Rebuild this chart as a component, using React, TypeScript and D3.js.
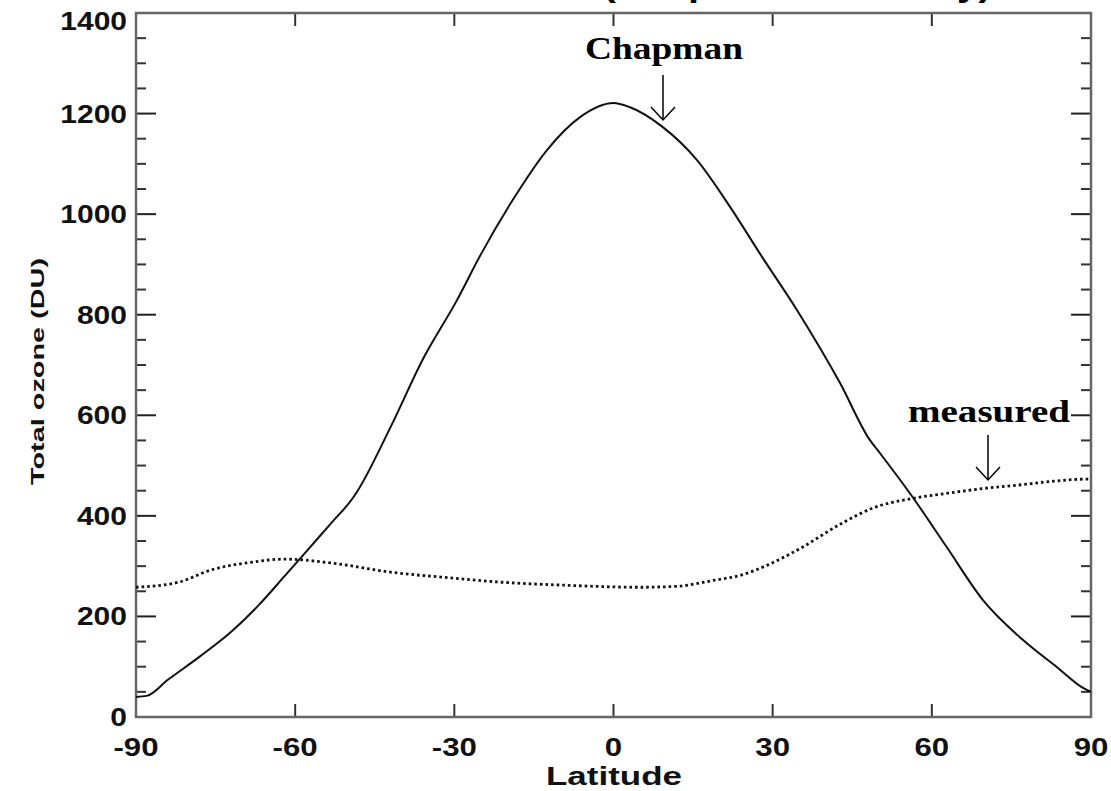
import { useEffect, useRef } from 'react';
import * as d3 from 'd3';

// Chapman theory total ozone vs latitude (DU)
const chapmanLat = [-90, -88, -84, -78, -72, -67, -62, -57.5, -53, -49.3, -48.4, -42, -36, -29.5, -25, -19, -12.5, -6.3, 0, 3, 9.3, 15.7, 22, 28, 34.6, 42.7, 48.3, 50.2, 56.4, 62.8, 69.6, 77.2, 83.6, 88.5, 90];
const chapmanVal = [40, 42, 74, 120, 170, 221, 280, 334, 388, 433, 447, 577, 710, 829, 920, 1028, 1128, 1193, 1221, 1213, 1173, 1108, 1014, 915, 809, 664, 551, 525, 437, 338, 233, 153, 99, 58, 50];

// measured total ozone vs latitude (DU)
const measuredLat = [-90, -82, -76, -68, -62, -53, -42, -30, -21, -9, 5, 12, 19, 24, 29, 35, 43, 49, 56, 63, 71, 77, 83, 89, 90];
const measuredVal = [258, 268, 292, 308, 314, 306, 288, 276, 268, 262, 258, 260, 272, 282, 302, 334, 385, 416, 434, 445, 456, 462, 469, 473, 473];

const xTicks = [-90, -60, -30, 0, 30, 60, 90];
const yTicks = [0, 200, 400, 600, 800, 1000, 1200, 1400];
const yMinorTicks = d3.range(50, 1400, 50).filter(v => v % 200 !== 0);

const title = 'Total ozone column (Chapman vs. reality)';

export default function App() {
    const svgRef = useRef(null);
    const width = 1111;
    const height = 791;

    useEffect(() => {
        const svg = d3.select(svgRef.current);
        svg.selectAll('*').remove();

        const x = d3.scaleLinear().domain([-90, 90]).range([136, 1091]);
        const y = d3.scaleLinear().domain([0, 1400]).range([717, 13]);
        const sans = "'Liberation Sans', Arial, sans-serif";
        const serif = "'Liberation Serif', 'Times New Roman', serif";

        // title, mostly cut off at the top of the picture
        svg.append('text')
            .attr('transform', `translate(613,-4) scale(1.2,1)`)
            .attr('text-anchor', 'middle')
            .style('font-family', sans)
            .style('font-weight', 'bold')
            .style('font-size', '32px')
            .text(title);

        // y ticks (left and right, pointing inward)
        const g = svg.append('g');
        g.selectAll('.ymaj').data(yTicks).join('line')
            .attr('x1', x(-90)).attr('x2', x(-90) + 20)
            .attr('y1', d => y(d)).attr('y2', d => y(d))
            .attr('stroke', '#222').attr('stroke-width', 2);
        g.selectAll('.ymajr').data(yTicks).join('line')
            .attr('x1', x(90)).attr('x2', x(90) - 20)
            .attr('y1', d => y(d)).attr('y2', d => y(d))
            .attr('stroke', '#222').attr('stroke-width', 2);
        g.selectAll('.ymin').data(yMinorTicks).join('line')
            .attr('x1', x(-90)).attr('x2', x(-90) + 10)
            .attr('y1', d => y(d)).attr('y2', d => y(d))
            .attr('stroke', '#333').attr('stroke-width', 2);
        g.selectAll('.yminr').data(yMinorTicks).join('line')
            .attr('x1', x(90)).attr('x2', x(90) - 10)
            .attr('y1', d => y(d)).attr('y2', d => y(d))
            .attr('stroke', '#333').attr('stroke-width', 2);

        // x ticks (bottom and top)
        g.selectAll('.xb').data(xTicks).join('line')
            .attr('x1', d => x(d)).attr('x2', d => x(d))
            .attr('y1', y(0)).attr('y2', y(0) - 13)
            .attr('stroke', '#333').attr('stroke-width', 2);
        g.selectAll('.xt').data(xTicks).join('line')
            .attr('x1', d => x(d)).attr('x2', d => x(d))
            .attr('y1', y(1400)).attr('y2', y(1400) + 13)
            .attr('stroke', '#333').attr('stroke-width', 2);

        // frame
        svg.append('rect')
            .attr('x', x(-90)).attr('y', y(1400))
            .attr('width', x(90) - x(-90)).attr('height', y(0) - y(1400))
            .attr('fill', 'none').attr('stroke', '#666').attr('stroke-width', 2.5);

        // tick labels
        svg.selectAll('.ylab').data(yTicks).join('text')
            .attr('transform', d => `translate(127,${y(d) + 9 + (d === 1400 ? 8 : 0)}) scale(1.2,1)`)
            .attr('text-anchor', 'end')
            .style('font-family', sans).style('font-weight', 'bold').style('font-size', '25px')
            .attr('fill', '#111')
            .text(d => d);
        svg.selectAll('.xlab').data(xTicks).join('text')
            .attr('transform', d => `translate(${x(d)},756) scale(1.2,1)`)
            .attr('text-anchor', 'middle')
            .style('font-family', sans).style('font-weight', 'bold').style('font-size', '26px')
            .attr('fill', '#111')
            .text(d => d);

        // axis titles
        svg.append('text')
            .attr('x', 546).attr('y', 785)
            .attr('textLength', 136).attr('lengthAdjust', 'spacingAndGlyphs')
            .style('font-family', sans).style('font-weight', 'bold').style('font-size', '26px')
            .attr('fill', '#111')
            .text('Latitude');
        svg.append('text')
            .attr('transform', 'translate(44,372) rotate(-90)')
            .attr('x', -113)
            .attr('textLength', 227).attr('lengthAdjust', 'spacingAndGlyphs')
            .style('font-family', sans).style('font-weight', 'bold').style('font-size', '19px')
            .attr('fill', '#111')
            .text('Total ozone (DU)');

        // lines
        const chapman = chapmanLat.map((d, i) => [d, chapmanVal[i]]);
        const measured = measuredLat.map((d, i) => [d, measuredVal[i]]);
        const line = d3.line().x(d => x(d[0])).y(d => y(d[1])).curve(d3.curveMonotoneX);

        svg.append('path')
            .attr('d', line(measured))
            .attr('fill', 'none').attr('stroke', '#111')
            .attr('stroke-width', 2.8).attr('stroke-dasharray', '2.6 3');
        svg.append('path')
            .attr('d', line(chapman))
            .attr('fill', 'none').attr('stroke', '#111').attr('stroke-width', 2);

        // annotations
        svg.append('text')
            .attr('x', 585).attr('y', 59)
            .attr('textLength', 158).attr('lengthAdjust', 'spacingAndGlyphs')
            .style('font-family', serif).style('font-weight', 'bold').style('font-size', '31px')
            .text('Chapman');
        svg.append('text')
            .attr('x', 908).attr('y', 422)
            .attr('textLength', 162).attr('lengthAdjust', 'spacingAndGlyphs')
            .style('font-family', serif).style('font-weight', 'bold').style('font-size', '31px')
            .text('measured');

        const arrows = [
            { x: 663, y1: 75, y2: 120 },
            { x: 988, y1: 435, y2: 480 },
        ];
        arrows.forEach(a => {
            svg.append('line')
                .attr('x1', a.x).attr('x2', a.x).attr('y1', a.y1).attr('y2', a.y2)
                .attr('stroke', '#000').attr('stroke-width', 1.5);
            svg.append('path')
                .attr('d', `M${a.x - 12},${a.y2 - 13}L${a.x},${a.y2}L${a.x + 12},${a.y2 - 13}`)
                .attr('fill', 'none').attr('stroke', '#000').attr('stroke-width', 1.5);
        });
    }, []);

    return (
        <svg ref={svgRef} width={width} height={height}
            style={{ position: 'absolute', left: 0, top: 0, background: '#fff' }}></svg>
    );
}
